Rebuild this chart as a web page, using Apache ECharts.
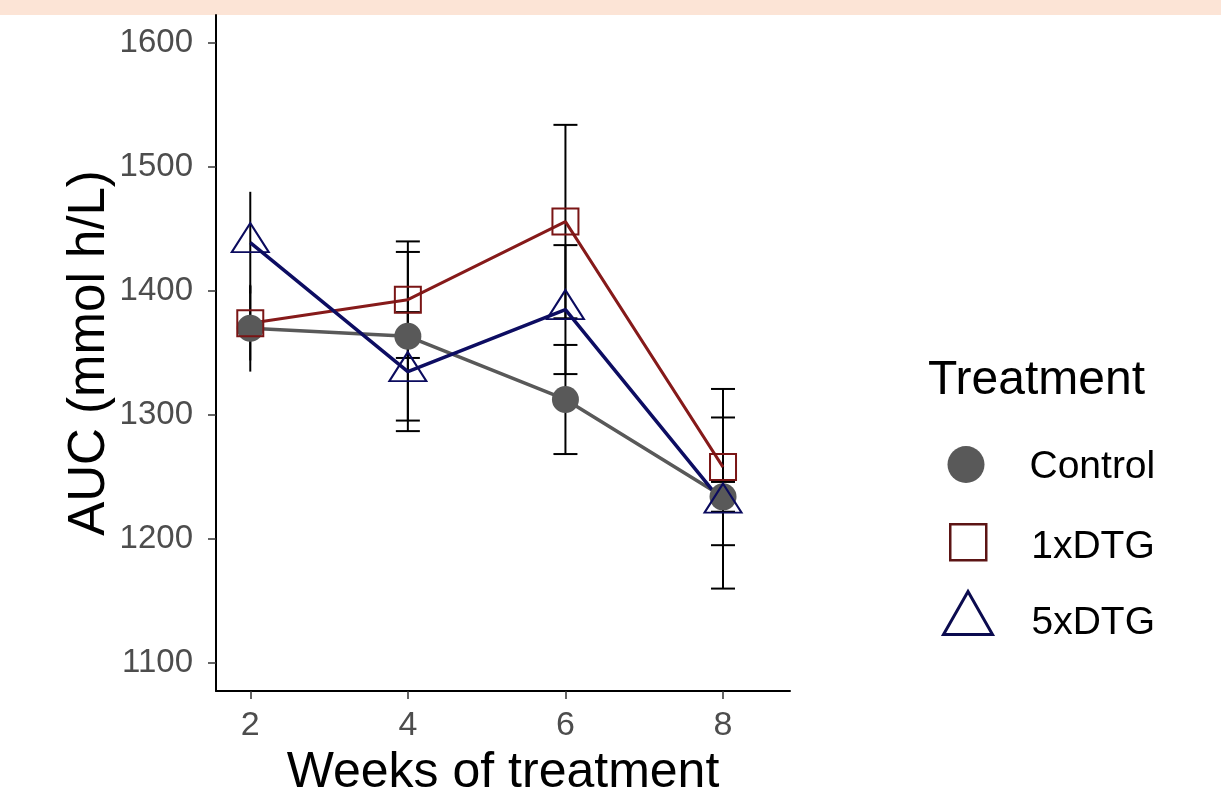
<!DOCTYPE html>
<html>
<head>
<meta charset="utf-8">
<script src="https://cdn.jsdelivr.net/npm/echarts@6/dist/echarts.min.js"></script>
<style>
html,body{margin:0;padding:0;background:#fff;}
#chart{width:1221px;height:795px;}
</style>
</head>
<body>
<div id="chart"></div>
<script>
// ---- data ----
const weeks = [2, 4, 6, 8];
const treatments = ['Control', '1xDTG', '5xDTG'];
const controlMean = [1370, 1363.5, 1312.5, 1234];
const controlErr  = [35, 68, 44, 12];
const dtg1Mean = [1374, 1393, 1456, 1258];
const dtg1Err  = [30, 47, 78, 63];
const dtg5Mean = [1439, 1335, 1385, 1229];
const dtg5Err  = [41, 48, 52, 69];
const yTicks = [1100, 1200, 1300, 1400, 1500, 1600];
const xTicks = [2, 4, 6, 8];

const FONT = '"Liberation Sans", Arial, sans-serif';
const means = [controlMean, dtg1Mean, dtg5Mean];
const errs = [controlErr, dtg1Err, dtg5Err];

const errData = [];
means.forEach((m, s) => {
  weeks.forEach((w, i) => {
    errData.push([w, m[i] - errs[s][i], m[i] + errs[s][i]]);
  });
});

function renderErr(params, api) {
  const x = api.value(0), lo = api.value(1), hi = api.value(2);
  const pLo = api.coord([x, lo]);
  const pHi = api.coord([x, hi]);
  const cap = x === 2 ? 0 : 12;
  const st = { stroke: '#000', lineWidth: 2 };
  const children = [{ type: 'line', shape: { x1: pLo[0], y1: pLo[1], x2: pHi[0], y2: pHi[1] }, style: st }];
  if (cap) {
    children.push({ type: 'line', shape: { x1: pLo[0] - cap, y1: pLo[1], x2: pLo[0] + cap, y2: pLo[1] }, style: st });
    children.push({ type: 'line', shape: { x1: pHi[0] - cap, y1: pHi[1], x2: pHi[0] + cap, y2: pHi[1] }, style: st });
  }
  return { type: 'group', children };
}

const pair = m => weeks.map((w, i) => [w, m[i]]);

// legend icons: visible shape plus an invisible move-to point below it,
// so the label sits slightly lower than the icon (as in the original)
const iconCircle = 'path://M0,18.5 A18.5,18.5 0 1,1 37,18.5 A18.5,18.5 0 1,1 0,18.5 Z M18.5,43';
const iconSquare = 'path://M0,0 L36,0 L36,36 L0,36 Z M18,46';
const iconTriangle = 'path://M24.5,0 L49,43 L0,43 Z M24.5,64';

const legendText = pad => ({ fontFamily: FONT, fontSize: 39, color: '#000', padding: [0, 0, 0, pad] });

const chart = echarts.init(document.getElementById('chart'), null, { renderer: 'canvas' });
chart.setOption({
  animation: false,
  backgroundColor: '#fff',
  graphic: [{ type: 'rect', shape: { x: 0, y: 0, width: 1221, height: 15 }, style: { fill: '#FCE4D6' }, z: 0 }],
  grid: { left: 216, right: 431, top: 15, bottom: 104, containLabel: false, outerBoundsMode: 'none' },
  title: {
    text: 'Treatment', left: 928, top: 357, padding: 0,
    textStyle: { fontFamily: FONT, fontSize: 48, fontWeight: 'normal', color: '#000' }
  },
  legend: [
    {
      data: [{ name: 'Control', icon: iconCircle, itemStyle: { color: '#595959', borderWidth: 0 } }],
      left: 947.5, top: 446, itemWidth: 37, itemHeight: 43, padding: 0, selectedMode: false,
      textStyle: legendText(40)
    },
    {
      data: [{ name: '1xDTG', icon: iconSquare, itemStyle: { color: 'rgba(0,0,0,0)', borderColor: '#5c1414', borderWidth: 2.5 } }],
      left: 949, top: 523, itemWidth: 36, itemHeight: 46, padding: 0, selectedMode: false,
      textStyle: legendText(40)
    },
    {
      data: [{ name: '5xDTG', icon: iconTriangle, itemStyle: { color: 'rgba(0,0,0,0)', borderColor: '#0b0b4f', borderWidth: 3 } }],
      left: 942, top: 590, itemWidth: 49, itemHeight: 64, padding: 0, selectedMode: false,
      textStyle: legendText(34)
    }
  ],
  xAxis: {
    type: 'value', min: 1.565, max: 8.85,
    name: 'Weeks of treatment', nameLocation: 'middle', nameGap: 54,
    nameTextStyle: { fontFamily: FONT, fontSize: 50, color: '#000' },
    axisLine: { show: true, onZero: false, lineStyle: { color: '#000', width: 2 } },
    axisTick: { show: true, customValues: xTicks, length: 8, lineStyle: { color: '#333', width: 1.5 } },
    axisLabel: { customValues: xTicks, margin: 18, fontFamily: FONT, fontSize: 34, color: '#4D4D4D',
      formatter: v => String(v) },
    splitLine: { show: false }
  },
  yAxis: {
    type: 'value', min: 1077.4, max: 1622.6,
    name: 'AUC (mmol h/L)', nameLocation: 'middle', nameGap: 86, nameRotate: 90,
    nameTextStyle: { fontFamily: FONT, fontSize: 51, color: '#000' },
    axisLine: { show: true, onZero: false, lineStyle: { color: '#000', width: 2 } },
    axisTick: { show: true, customValues: yTicks, length: 8, lineStyle: { color: '#333', width: 1.5 } },
    axisLabel: { customValues: yTicks, margin: 23, fontFamily: FONT, fontSize: 33, color: '#4D4D4D',
      formatter: v => String(v) },
    splitLine: { show: false }
  },
  series: [
    {
      type: 'custom', name: 'err', data: errData, renderItem: renderErr, silent: true, z: 1,
      encode: { x: 0, y: [1, 2] }
    },
    {
      type: 'line', name: treatments[0], data: pair(controlMean), z: 3, silent: true,
      symbol: 'circle', symbolSize: 27,
      lineStyle: { color: '#595959', width: 3.5 },
      itemStyle: { color: '#595959' }
    },
    {
      type: 'line', name: treatments[1], data: pair(dtg1Mean), z: 3, silent: true,
      symbol: 'rect', symbolSize: 26,
      lineStyle: { color: '#861a1a', width: 3 },
      itemStyle: { color: 'rgba(0,0,0,0)', borderColor: '#7a1515', borderWidth: 2 }
    },
    {
      type: 'line', name: treatments[2], data: pair(dtg5Mean), z: 3, silent: true,
      symbol: 'triangle', symbolSize: [37, 29], symbolOffset: [0, -5],
      lineStyle: { color: '#0d0d62', width: 3.5 },
      itemStyle: { color: 'rgba(0,0,0,0)', borderColor: '#0b0b5e', borderWidth: 2 }
    }
  ]
});
</script>
</body>
</html>
